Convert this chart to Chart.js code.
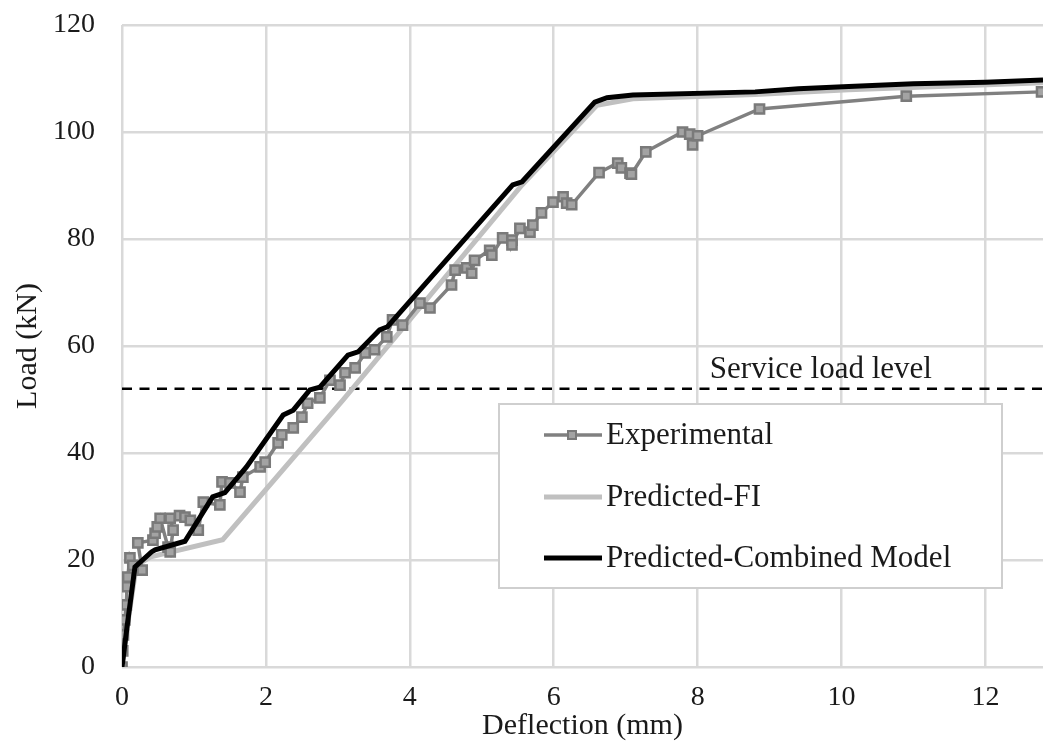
<!DOCTYPE html>
<html>
<head>
<meta charset="utf-8">
<script src="https://cdn.jsdelivr.net/npm/chart.js@4/dist/chart.umd.min.js"></script>
<style>
  html, body { margin: 0; padding: 0; background: #fff; }
  #wrap { width: 1043px; height: 744px; }
</style>
</head>
<body>
<div id="wrap"><canvas id="chart" width="1043" height="744"></canvas></div>
<script>
// deflection (mm) / load (kN)
const expDeflection = [0, 0.01, 0.02, 0.04, 0.06, 0.07, 0.08, 0.11, 0.15, 0.28, 0.22, 0.43, 0.46, 0.49, 0.53, 0.64, 0.67, 0.71, 0.67, 0.8, 0.875, 0.95, 1.06, 1.13, 1.36, 1.39, 1.5, 1.64, 1.68, 1.92, 1.99, 2.17, 2.22, 2.38, 2.5, 2.58, 2.75, 2.89, 3.03, 3.1, 3.24, 3.38, 3.51, 3.68, 3.76, 3.9, 4.14, 4.28, 4.58, 4.63, 4.79, 4.86, 4.9, 5.11, 5.14, 5.29, 5.42, 5.42, 5.53, 5.67, 5.71, 5.83, 5.99, 6.13, 6.18, 6.25, 6.63, 6.89, 6.94, 7.06, 7.08, 7.28, 7.79, 7.89, 7.93, 8.0, 8.86, 10.9, 12.78];
const expLoad       = [0, 3, 6, 8.8, 11.6, 15, 16.8, 20.4, 19, 18.1, 23.2, 23.7, 25, 26.2, 27.8, 22.4, 21.5, 25.6, 27.8, 28.3, 28, 27.4, 25.6, 30.8, 30.3, 34.6, 34.4, 32.7, 35.5, 37.4, 38.3, 41.9, 43.4, 44.7, 46.7, 49.3, 50.3, 53.6, 52.7, 55, 55.9, 58.7, 59.3, 61.7, 64.9, 63.9, 68, 67.1, 71.4, 74.2, 74.6, 73.6, 76, 77.9, 77, 80.2, 79.8, 78.9, 82, 81.3, 82.6, 84.9, 86.9, 87.9, 86.7, 86.4, 92.4, 94.2, 93.3, 92.3, 92.1, 96.3, 100, 99.6, 97.6, 99.3, 104.3, 106.7, 107.5];

const fiDeflection = [0, 0.1, 0.2, 0.4, 1.4, 3.07, 5.56, 6.6, 7.1, 8.8, 10.1, 12.8];
const fiLoad       = [0, 10, 19, 20.6, 23.8, 49.9, 90.1, 105.0, 106.2, 107.0, 107.9, 109.2];

const combDeflection = [0, 0.07, 0.18, 0.41, 0.46, 0.875, 1.26, 1.43, 1.73, 2.24, 2.38, 2.61, 2.75, 3.14, 3.28, 3.58, 3.69, 5.43, 5.56, 6.57, 6.74, 7.1, 8.8, 9.4, 10.1, 11, 12, 12.8];
const combLoad       = [0, 7.5, 18.7, 21.5, 21.9, 23.5, 31.8, 32.6, 37.4, 47.1, 48, 51.8, 52.3, 58.3, 58.9, 63, 63.6, 90.1, 90.7, 105.6, 106.4, 106.9, 107.5, 108.1, 108.5, 109, 109.3, 109.7];

const serviceLoad = 52;
const xTicks = [0, 2, 4, 6, 8, 10, 12];
const yTicks = [0, 20, 40, 60, 80, 100, 120];
const X_MAX = 12.8, Y_MAX = 120;

const FONT = '"Liberation Serif", "Times New Roman", serif';
const TXT = '#1a1a1a';

const pts = (xs, ys) => xs.map((x, i) => ({ x, y: ys[i] }));

const extras = {
  id: 'extras',
  afterDatasetsDraw(chart) {
    const { ctx, scales: { x, y } } = chart;
    ctx.save();
    // service load label
    ctx.font = '31px ' + FONT;
    ctx.fillStyle = TXT;
    ctx.textBaseline = 'alphabetic';
    ctx.fillText('Service load level', x.getPixelForValue(8.17), y.getPixelForValue(serviceLoad) - 11);

    // legend box
    const bx = 499, by = 404, bw = 503, bh = 184;
    ctx.fillStyle = '#fff';
    ctx.fillRect(bx, by, bw, bh);
    ctx.strokeStyle = '#cfcfcf';
    ctx.lineWidth = 2;
    ctx.strokeRect(bx, by, bw, bh);

    const items = chart.data.datasets.filter(d => d.legend);
    items.sort((a, b) => a.legend - b.legend);
    const rows = [435, 497, 558];
    items.forEach((d, i) => {
      const ry = rows[i];
      ctx.strokeStyle = d.borderColor;
      ctx.lineWidth = d.borderWidth;
      ctx.beginPath();
      ctx.moveTo(544, ry);
      ctx.lineTo(602, ry);
      ctx.stroke();
      if (d.pointRadius) {
        ctx.fillStyle = d.pointBackgroundColor;
        ctx.strokeStyle = d.pointBorderColor;
        ctx.lineWidth = 2;
        ctx.fillRect(568, ry - 4, 8, 8);
        ctx.strokeRect(568, ry - 4, 8, 8);
      }
      ctx.fillStyle = TXT;
      ctx.font = '31px ' + FONT;
      ctx.textBaseline = 'middle';
      ctx.fillText(d.label, 606, ry + 1);
    });
    ctx.restore();
  }
};

new Chart(document.getElementById('chart'), {
  type: 'line',
  data: {
    datasets: [
      {
        label: 'Experimental', legend: 1, order: 1,
        data: pts(expDeflection, expLoad),
        borderColor: '#808080', borderWidth: 3.5,
        pointStyle: 'rect', pointRadius: 6.5,
        pointBackgroundColor: '#a3a3a3', pointBorderColor: '#7a7a7a', pointBorderWidth: 2.5,
        tension: 0
      },
      {
        label: 'Predicted-FI', legend: 2, order: 2,
        data: pts(fiDeflection, fiLoad),
        borderColor: '#c0c0c0', borderWidth: 5, pointRadius: 0, tension: 0
      },
      {
        label: 'Predicted-Combined Model', legend: 3, order: 0,
        data: pts(combDeflection, combLoad),
        borderColor: '#000000', borderWidth: 5, pointRadius: 0, tension: 0
      },
      {
        label: 'Service load', order: 3,
        data: [{ x: 0, y: serviceLoad }, { x: X_MAX, y: serviceLoad }],
        borderColor: '#000000', borderWidth: 2.5, borderDash: [10, 7.5], pointRadius: 0
      }
    ]
  },
  options: {
    responsive: false,
    animation: false,
    layout: { autoPadding: false, padding: { top: 25, right: 0, bottom: 0, left: 0 } },
    plugins: { legend: { display: false }, tooltip: { enabled: false } },
    scales: {
      x: {
        type: 'linear', min: 0, max: X_MAX,
        afterBuildTicks: s => { s.ticks = xTicks.map(v => ({ value: v })); },
        afterFit: s => { s.height = 77; s.paddingLeft = 0; s.paddingRight = 0; },
        grid: { color: '#d9d9d9', lineWidth: 2.5, drawTicks: false },
        border: { display: false },
        ticks: { padding: 14, color: TXT, font: { family: FONT, size: 28 } },
        title: { display: true, text: 'Deflection (mm)', color: TXT, padding: { top: 0, bottom: 0 }, font: { family: FONT, size: 30 } }
      },
      y: {
        type: 'linear', min: 0, max: Y_MAX,
        afterBuildTicks: s => { s.ticks = yTicks.map(v => ({ value: v })); },
        afterFit: s => { s.width = 122; s.paddingTop = 0; s.paddingBottom = 0; },
        grid: { color: '#d9d9d9', lineWidth: 2.5, drawTicks: false },
        border: { display: false },
        ticks: { padding: 27, color: TXT, font: { family: FONT, size: 28 } },
        title: { display: true, text: 'Load (kN)', color: TXT, padding: { top: 10, bottom: 0 }, font: { family: FONT, size: 30 } }
      }
    }
  },
  plugins: [extras]
});
</script>
</body>
</html>
